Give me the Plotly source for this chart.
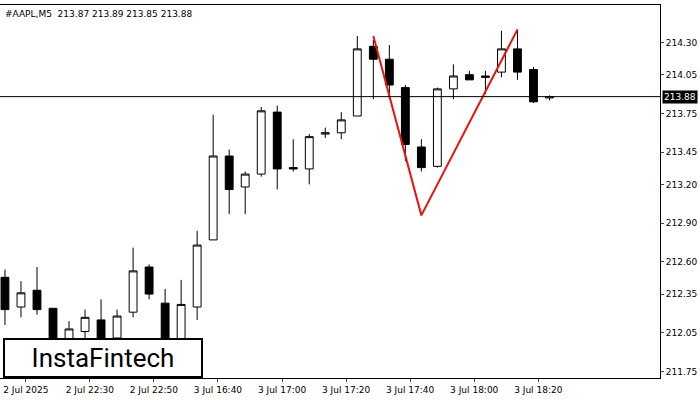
import plotly.graph_objects as go

opens  = [212.48,212.25,212.38,212.24,211.96,212.06,212.15,212.01,212.21,212.56,212.28,211.96,212.25,212.77,213.42,213.18,213.28,213.76,213.33,213.32,213.59,213.60,213.73,214.27,214.17,213.95,213.49,213.34,213.94,214.05,214.04,214.07,214.25,214.09,213.87]
highs  = [212.54,212.45,212.56,212.24,212.14,212.23,212.31,212.23,212.71,212.58,212.39,212.46,212.84,213.74,213.47,213.30,213.80,213.81,213.55,213.59,213.64,213.76,214.35,214.32,214.28,213.97,213.55,213.95,214.13,214.08,214.08,214.39,214.40,214.11,213.89]
lows   = [212.11,212.17,212.19,211.69,211.96,212.00,211.92,211.96,212.17,212.31,211.84,211.92,212.15,212.77,212.97,212.97,213.26,213.16,213.30,213.20,213.56,213.55,213.73,213.86,213.86,213.38,213.30,213.33,213.86,214.01,213.90,214.03,214.01,213.83,213.85]
closes = [212.23,212.36,212.23,211.96,212.08,212.17,211.96,212.18,212.53,212.35,211.96,212.27,212.73,213.42,213.16,213.28,213.77,213.32,213.32,213.57,213.60,213.70,214.25,214.17,213.97,213.51,213.33,213.94,214.04,214.01,214.03,214.25,214.07,213.84,213.88]
pattern_idx = [23, 26, 32]
pattern_px = [214.35, 212.96, 214.40]
price_ticks = [214.30,214.05,213.75,213.45,213.20,212.90,212.60,212.35,212.05,211.75]
time_idx = [1.3,5.3,9.3,13.3,17.3,21.3,25.3,29.3,33.3]
time_labels = ["2 Jul 2025","2 Jul 22:30","2 Jul 22:50","3 Jul 16:40","3 Jul 17:00","3 Jul 17:20","3 Jul 17:40","3 Jul 18:00","3 Jul 18:20"]
last_price = 213.88

x = list(range(len(opens)))
fig = go.Figure()
fig.add_trace(go.Candlestick(x=x, open=opens, high=highs, low=lows, close=closes,
    increasing=dict(line=dict(color="black", width=1), fillcolor="white"),
    decreasing=dict(line=dict(color="black", width=1), fillcolor="black"),
    whiskerwidth=0, showlegend=False, hoverinfo="skip"))
fig.add_trace(go.Scatter(x=pattern_idx, y=pattern_px, mode="lines",
    line=dict(color="#e8140f", width=2), showlegend=False))
fig.add_hline(y=last_price, line=dict(color="black", width=1))
fig.update_layout(
    width=700, height=400, margin=dict(l=0, r=40, t=5, b=22),
    paper_bgcolor="white", plot_bgcolor="white",
    font=dict(family="DejaVu Sans", size=9, color="black"),
    xaxis=dict(range=[-0.31, 40.9], rangeslider=dict(visible=False), showgrid=False,
               tickvals=time_idx, ticktext=time_labels, ticks="outside", ticklen=3,
               showline=True, linecolor="black", mirror=True, zeroline=False, automargin=False,
               tickfont=dict(size=9)),
    yaxis=dict(range=[211.70, 214.59], side="right", showgrid=False,
               tickvals=price_ticks, ticktext=[f"{v:.2f}" for v in price_ticks],
               ticks="outside", ticklen=3, showline=True, linecolor="black", mirror=True,
               zeroline=False, automargin=False, tickfont=dict(size=9)),
)
fig.add_annotation(xref="paper", yref="y", x=1.0, y=last_price, xanchor="left", xshift=2,
    text=f"{last_price:.2f}", showarrow=False, bgcolor="black", font=dict(color="white", size=9),
    borderpad=1)
fig.add_annotation(xref="paper", yref="paper", x=0.005, y=0.995, xanchor="left", yanchor="top",
    text="#AAPL,M5  213.87 213.89 213.85 213.88", showarrow=False, font=dict(size=9))
fig.add_annotation(xref="paper", yref="paper", x=0.005, y=0.0, xanchor="left", yanchor="bottom",
    text="InstaFintech", showarrow=False, bgcolor="white", bordercolor="black", borderwidth=2,
    borderpad=4, font=dict(family="Roboto", size=26, color="black"), width=188, height=28)
fig.write_html("out.html", config={"displayModeBar": False},
               post_script="document.body.style.margin='0';")
